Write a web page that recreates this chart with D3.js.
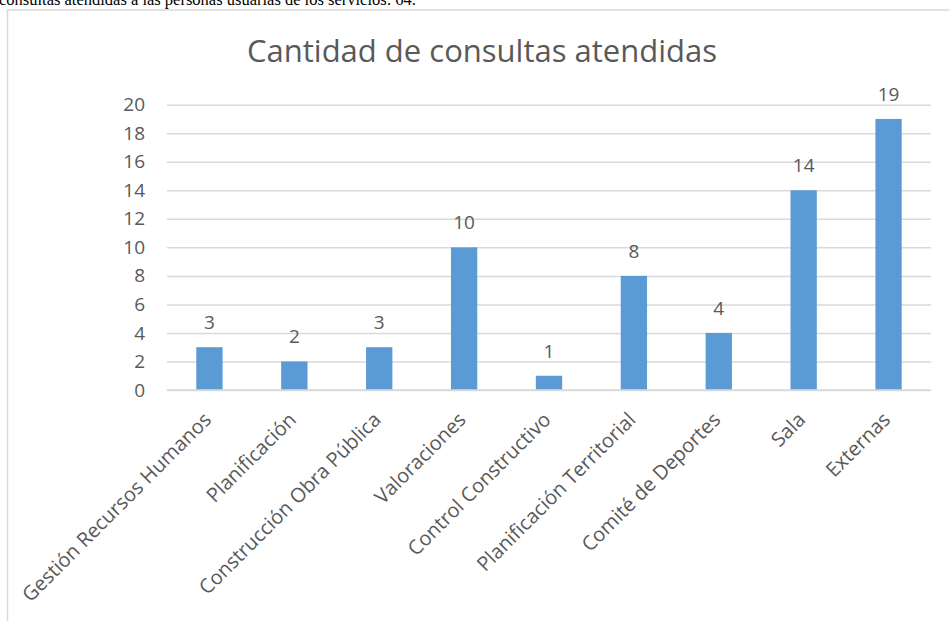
<!DOCTYPE html>
<html>
<head>
<meta charset="utf-8">
<script src="https://cdn.jsdelivr.net/npm/d3@7"></script>
<style>
  html, body { margin: 0; padding: 0; background: #fff; overflow: hidden; }
  svg { display: block; }
</style>
</head>
<body>
<svg id="chart" width="949" height="621"></svg>
<script>
// data
const categories = [
  'Gestión Recursos Humanos', 'Planificación', 'Construcción Obra Pública',
  'Valoraciones', 'Control Constructivo', 'Planificación Territorial',
  'Comité de Deportes', 'Sala', 'Externas'
];
const values = [3, 2, 3, 10, 1, 8, 4, 14, 19];
const yTicks = [0, 2, 4, 6, 8, 10, 12, 14, 16, 18, 20];
const titleText = 'Cantidad de consultas atendidas';
const captionText = 'consultas atendidas a las personas usuarias de los servicios: 64.';

const width = 949, height = 621;
const margin = { top: 104.7, right: 18, bottom: 231, left: 167 };
const innerWidth = width - margin.left - margin.right;
const innerHeight = height - margin.top - margin.bottom;

const textColor = '#595959';
const gridColor = '#d9d9d9';
const barColor = '#5b9bd5';
const font = '"Open Sans", sans-serif';

const svg = d3.select('#chart');

// cut-off line of body text above the chart
svg.append('text')
  .attr('x', -1)
  .attr('y', 4.5)
  .attr('font-family', '"Liberation Serif", serif')
  .attr('font-size', '16.5px')
  .attr('fill', '#000')
  .text(captionText);

// chart frame: only left and top edges are inside the picture
svg.append('path')
  .attr('d', `M7.5,${height} V10 H${width}`)
  .attr('fill', 'none')
  .attr('stroke', gridColor)
  .attr('stroke-width', 1.5);

svg.append('text')
  .attr('x', 482)
  .attr('y', 62)
  .attr('text-anchor', 'middle')
  .attr('font-family', font)
  .attr('font-size', '31px')
  .attr('fill', textColor)
  .text(titleText);

const g = svg.append('g')
  .attr('transform', `translate(${margin.left},${margin.top})`);

const xScale = d3.scaleBand()
  .domain(categories)
  .range([0, innerWidth])
  .paddingInner(0.69)
  .paddingOuter(0.345);

const yScale = d3.scaleLinear()
  .domain([0, 20])
  .range([innerHeight, 0]);

// gridlines
g.append('g')
  .attr('class', 'grid')
  .call(d3.axisLeft(yScale).tickValues(yTicks).tickSize(-innerWidth).tickFormat(''))
  .call(a => a.select('.domain').remove())
  .selectAll('line')
  .attr('stroke', gridColor)
  .attr('stroke-width', 1.5);

// y-axis labels
g.append('g')
  .attr('class', 'y-axis')
  .call(d3.axisLeft(yScale).tickValues(yTicks).tickSize(0).tickPadding(22))
  .call(a => a.select('.domain').remove())
  .selectAll('text')
  .attr('font-family', font)
  .attr('font-size', '19px')
  .attr('fill', textColor);

g.selectAll('.bar')
  .data(values)
  .join('rect')
  .attr('class', 'bar')
  .attr('x', (d, i) => xScale(categories[i]))
  .attr('y', d => yScale(d))
  .attr('width', xScale.bandwidth())
  .attr('height', d => innerHeight - yScale(d))
  .attr('fill', barColor);

g.selectAll('.value-label')
  .data(values)
  .join('text')
  .attr('class', 'value-label')
  .attr('x', (d, i) => xScale(categories[i]) + xScale.bandwidth() / 2)
  .attr('y', d => yScale(d) - 18)
  .attr('text-anchor', 'middle')
  .attr('font-family', font)
  .attr('font-size', '19px')
  .attr('fill', textColor)
  .text(d => d);

// x axis line
g.append('line')
  .attr('x1', 0)
  .attr('x2', innerWidth)
  .attr('y1', innerHeight)
  .attr('y2', innerHeight)
  .attr('stroke', gridColor)
  .attr('stroke-width', 1.5);

// rotated category labels
g.append('g')
  .attr('class', 'x-axis')
  .attr('transform', `translate(0,${innerHeight})`)
  .call(d3.axisBottom(xScale).tickSize(0).tickPadding(0))
  .call(a => a.select('.domain').remove())
  .selectAll('text')
  .attr('font-family', font)
  .attr('font-size', '20px')
  .attr('fill', textColor)
  .attr('text-anchor', 'end')
  .attr('dy', null)
  .attr('y', null)
  .attr('transform', 'translate(3,31) rotate(-45)');
</script>
</body>
</html>
